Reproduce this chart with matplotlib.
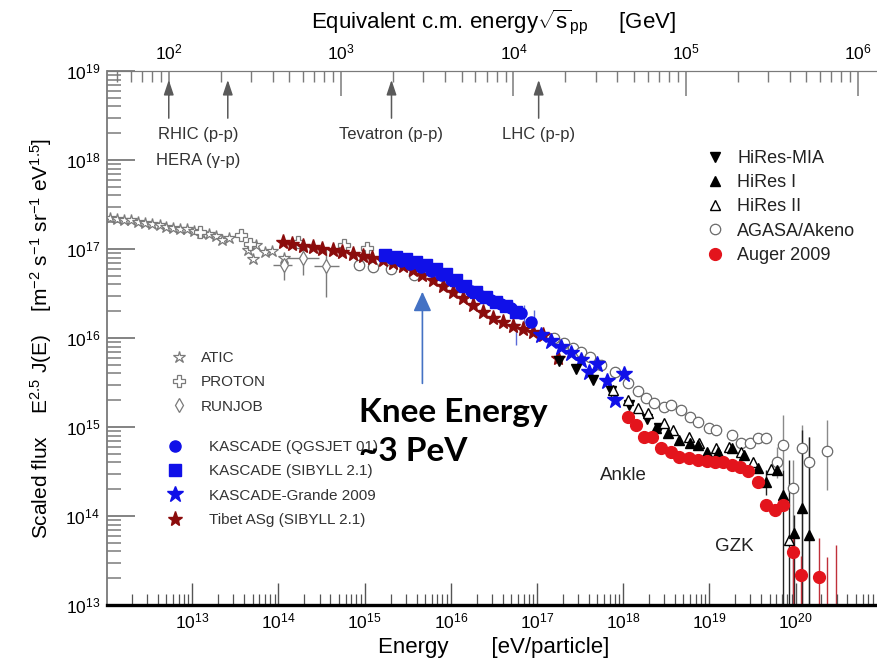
import numpy as np
import matplotlib.pyplot as plt

plt.rcParams['font.family'] = ['Liberation Sans', 'DejaVu Sans']
plt.rcParams['mathtext.fontset'] = 'custom'
plt.rcParams['mathtext.rm'] = 'Liberation Sans'
plt.rcParams['mathtext.it'] = 'Liberation Sans:italic'
plt.rcParams['mathtext.bf'] = 'Liberation Sans:bold'

# all values are log10: energy in eV, scaled flux E^2.5 J(E)
atic_logE = [12.05, 12.13, 12.21, 12.29, 12.37, 12.45, 12.53, 12.62, 12.70, 12.78, 12.86, 12.94,
             13.02, 13.10, 13.19, 13.27, 13.35, 13.43, 13.65, 13.70, 13.74, 13.84, 13.93, 14.06]
atic_logF = [17.35, 17.34, 17.33, 17.33, 17.30, 17.29, 17.28, 17.27, 17.25, 17.24, 17.22, 17.22,
             17.20, 17.18, 17.17, 17.15, 17.10, 17.12, 16.99, 16.89, 17.04, 16.97, 16.98, 16.90]

proton_logE = [13.09, 13.57, 13.67, 14.23, 14.76, 15.03]
proton_logF = [17.19, 17.16, 17.06, 17.08, 17.05, 17.01]

runjob_logE = [14.06, 14.29, 14.55]
runjob_logF = [16.82, 16.90, 16.81]
runjob_E_lo = [13.94, 14.10, 14.41]
runjob_E_hi = [14.16, 14.47, 14.70]
runjob_F_lo = [16.65, 16.71, 16.46]
runjob_F_hi = [16.90, 17.04, 17.01]

tibet_logE = [14.05, 14.16, 14.28, 14.40, 14.51, 14.63, 14.74, 14.86, 14.98, 15.09, 15.21, 15.33,
              15.44, 15.56, 15.67, 15.79, 15.91, 16.02, 16.14, 16.26, 16.37, 16.49, 16.60, 16.72,
              16.84, 16.95, 17.07, 17.24]
tibet_logF = [17.08, 17.06, 17.03, 17.02, 17.00, 16.99, 16.97, 16.94, 16.92, 16.90, 16.88, 16.84,
              16.81, 16.76, 16.71, 16.65, 16.58, 16.52, 16.45, 16.37, 16.29, 16.22, 16.18, 16.13,
              16.10, 16.07, 16.03, 15.78]

kas_sib_logE = [15.24, 15.36, 15.48, 15.59, 15.71, 15.83, 15.94, 16.06, 16.17, 16.29, 16.41, 16.52,
                16.64, 16.76]
kas_sib_logF = [16.93, 16.91, 16.89, 16.85, 16.82, 16.78, 16.72, 16.65, 16.58, 16.52, 16.46, 16.40,
                16.36, 16.29]

kas_qgs_logE = [15.30, 15.42, 15.53, 15.65, 15.77, 15.88, 16.00, 16.12, 16.23, 16.35, 16.47, 16.58,
                16.70, 16.81, 16.93]
kas_qgs_logF = [16.90, 16.87, 16.83, 16.80, 16.75, 16.71, 16.65, 16.58, 16.53, 16.47, 16.43, 16.38,
                16.34, 16.28, 16.18]
kas_err_logE = [16.76, 16.85, 16.97]
kas_err_lo = [15.92, 16.17, 16.12]
kas_err_hi = [16.17, 16.37, 16.31]

grande_logE = [17.05, 17.16, 17.28, 17.40, 17.51, 17.60, 17.70, 17.81, 17.91, 18.01]
grande_logF = [16.03, 15.97, 15.90, 15.83, 15.75, 15.62, 15.71, 15.52, 15.30, 15.60]

mia_logE = [17.26, 17.45, 17.65, 17.86, 18.07, 18.28, 18.42]
mia_logF = [15.74, 15.65, 15.53, 15.40, 15.25, 15.09, 14.99]

hires1_logE = [18.38, 18.52, 18.65, 18.77, 18.87, 18.97, 19.10, 19.26, 19.40, 19.57, 19.66, 19.78,
               19.86, 19.98, 20.07, 20.16]
hires1_logF = [14.99, 14.93, 14.85, 14.82, 14.80, 14.72, 14.72, 14.76, 14.69, 14.54, 14.38, 14.52,
               14.24, 13.81, 14.09, 13.79]
hires1_err_logE = [19.66, 19.86, 19.98, 20.07, 20.16]
hires1_err_lo = [14.24, 12.50, 12.50, 12.50, 12.50]
hires1_err_hi = [14.52, 14.52, 14.01, 14.97, 14.89]

hires2_logE = [17.88, 18.06, 18.17, 18.29, 18.47, 18.58, 18.76, 18.88, 19.08, 19.23, 19.37, 19.51,
               19.72, 19.92]
hires2_logF = [15.42, 15.30, 15.21, 15.16, 15.04, 14.97, 14.89, 14.82, 14.76, 14.78, 14.72, 14.61,
               14.53, 13.73]
hires2_err_logE = [19.92]
hires2_err_lo = [12.50]
hires2_err_hi = [14.63]

agasa_logE = [14.93, 15.10, 15.30, 15.57, 17.20, 17.31, 17.42, 17.51, 17.62, 17.74, 17.90, 18.06,
              18.17, 18.27, 18.36, 18.47, 18.56, 18.67, 18.77, 18.87, 18.99, 19.08, 19.26, 19.37,
              19.47, 19.57, 19.66, 19.78, 19.86, 19.97, 20.07, 20.16, 20.37]
agasa_logF = [16.82, 16.80, 16.78, 16.71, 16.00, 15.94, 15.89, 15.84, 15.79, 15.70, 15.62, 15.49,
              15.40, 15.33, 15.27, 15.22, 15.25, 15.19, 15.11, 15.06, 14.99, 14.97, 14.91, 14.82,
              14.82, 14.88, 14.88, 14.61, 14.80, 14.31, 14.76, 14.61, 14.73]
agasa_err_logE = [19.78, 19.86, 19.97, 20.07, 20.16, 20.37]
agasa_err_lo = [14.43, 14.52, 12.50, 12.50, 12.50, 14.29]
agasa_err_hi = [14.78, 15.13, 14.63, 15.02, 14.89, 15.08]

auger_logE = [18.05, 18.15, 18.24, 18.33, 18.44, 18.56, 18.65, 18.76, 18.87, 18.97, 19.06, 19.16,
              19.26, 19.35, 19.45, 19.56, 19.66, 19.76, 19.86, 19.97, 20.06, 20.27]
auger_logF = [15.11, 15.02, 14.89, 14.89, 14.76, 14.72, 14.66, 14.65, 14.63, 14.62, 14.61, 14.61,
              14.57, 14.55, 14.51, 14.38, 14.12, 14.07, 14.12, 13.60, 13.34, 13.31]
auger_err_logE = [19.97, 20.06, 20.27, 20.37, 20.47]
auger_err_lo = [12.50, 12.50, 12.50, 12.50, 12.50]
auger_err_hi = [13.79, 13.55, 13.75, 13.54, 13.67]

# accelerator equivalents, sqrt(s) in GeV
acc_sqrts = [100, 220, 1960, 14000]

energy_ticks = [1e13, 1e14, 1e15, 1e16, 1e17, 1e18, 1e19, 1e20]
flux_ticks = [1e13, 1e14, 1e15, 1e16, 1e17, 1e18, 1e19]
sqrts_ticks = [1e2, 1e3, 1e4, 1e5, 1e6]

M_P = 0.938  # GeV


def p(v):
    return 10 ** np.asarray(v, dtype=float)


def to_sqrts(e):
    e = np.asarray(e, dtype=float)
    return np.sqrt(np.clip(2 * M_P * e * 1e-9, 1e-30, None))


def to_energy(s):
    s = np.asarray(s, dtype=float)
    return s ** 2 / (2 * M_P) * 1e9


fig = plt.figure(figsize=(8.78, 6.67), dpi=100)
ax = fig.add_axes([107 / 878, 1 - 605 / 667, 773 / 878, 534 / 667])
ax.set_xscale('log')
ax.set_yscale('log')
ax.set_xlim(10 ** 12.01, 10 ** 20.98)
ax.set_ylim(1e13, 1e19)
ax.set_xticks(energy_ticks)
ax.set_yticks(flux_ticks)

gray = '#7a7a7a'
blue = '#1010e8'
dred = '#8b0c0c'
red = '#e3141c'

# error bars
ax.errorbar(p(runjob_logE), p(runjob_logF),
            xerr=[p(runjob_logE) - p(runjob_E_lo), p(runjob_E_hi) - p(runjob_logE)],
            yerr=[p(runjob_logF) - p(runjob_F_lo), p(runjob_F_hi) - p(runjob_logF)],
            fmt='none', ecolor=gray, elinewidth=1.0, zorder=1)
ax.vlines(p(kas_err_logE), p(kas_err_lo), p(kas_err_hi), color='#5a6ad8', lw=1.0, zorder=1)
ax.vlines(p(agasa_err_logE), p(agasa_err_lo), p(agasa_err_hi), color='#8a8a8a', lw=1.0, zorder=1)
ax.vlines(p(hires1_err_logE), p(hires1_err_lo), p(hires1_err_hi), color='#222222', lw=1.0, zorder=1)
ax.vlines(p(hires2_err_logE), p(hires2_err_lo), p(hires2_err_hi), color='#222222', lw=1.0, zorder=1)
ax.vlines(p(auger_err_logE), p(auger_err_lo), p(auger_err_hi), color='#c0303a', lw=1.0, zorder=1)

h_atic, = ax.plot(p(atic_logE), p(atic_logF), ls='none', marker='*', ms=9, mfc='white',
                  mec=gray, mew=0.9, label='ATIC', zorder=2)
h_proton, = ax.plot(p(proton_logE), p(proton_logF), ls='none', marker='P', ms=8, mfc='white',
                    mec=gray, mew=0.9, label='PROTON', zorder=2)
h_runjob, = ax.plot(p(runjob_logE), p(runjob_logF), ls='none', marker='d', ms=7, mfc='white',
                    mec=gray, mew=0.9, label='RUNJOB', zorder=2)
h_agasa, = ax.plot(p(agasa_logE), p(agasa_logF), ls='none', marker='o', ms=7.5, mfc='white',
                   mec='#6a6a6a', mew=0.9, label='AGASA/Akeno', zorder=2)
h_tibet, = ax.plot(p(tibet_logE), p(tibet_logF), ls='none', marker='*', ms=11, mfc=dred,
                   mec=dred, label='Tibet ASg (SIBYLL 2.1)', zorder=3)
h_sib, = ax.plot(p(kas_sib_logE), p(kas_sib_logF), ls='none', marker='s', ms=8, mfc=blue,
                 mec=blue, label='KASCADE (SIBYLL 2.1)', zorder=4)
h_qgs, = ax.plot(p(kas_qgs_logE), p(kas_qgs_logF), ls='none', marker='o', ms=8, mfc=blue,
                 mec=blue, label='KASCADE (QGSJET 01)', zorder=4)
h_grande, = ax.plot(p(grande_logE), p(grande_logF), ls='none', marker='*', ms=12, mfc=blue,
                    mec=blue, label='KASCADE-Grande 2009', zorder=4)
h_mia, = ax.plot(p(mia_logE), p(mia_logF), ls='none', marker='v', ms=7.5, mfc='black',
                 mec='black', label='HiRes-MIA', zorder=5)
h_h2, = ax.plot(p(hires2_logE), p(hires2_logF), ls='none', marker='^', ms=7.5, mfc='white',
                mec='black', mew=1.0, label='HiRes II', zorder=5)
h_h1, = ax.plot(p(hires1_logE), p(hires1_logF), ls='none', marker='^', ms=7.5, mfc='black',
                mec='black', label='HiRes I', zorder=5)
h_auger, = ax.plot(p(auger_logE), p(auger_logF), ls='none', marker='o', ms=8.5, mfc=red,
                   mec=red, label='Auger 2009', zorder=6)

# axes styling
ax.spines['right'].set_visible(False)
ax.spines['left'].set_color(gray)
ax.spines['left'].set_linewidth(1.3)
ax.spines['top'].set_color(gray)
ax.spines['bottom'].set_color('black')
ax.spines['bottom'].set_linewidth(2.4)
ax.tick_params(axis='y', which='major', direction='in', length=20, width=1.3, color=gray,
               labelsize=12.5, pad=5)
ax.tick_params(axis='y', which='minor', direction='in', length=10, width=1.1, color=gray)
ax.tick_params(axis='x', which='major', direction='in', length=16, width=1.0, color='#555555',
               labelsize=12.5, pad=5)
ax.tick_params(axis='x', which='minor', direction='in', length=8, width=0.9, color='#555555')

ax.set_xlabel('Energy       [eV/particle]', fontsize=16, labelpad=4)
ax.set_ylabel(r'Scaled flux    E$^{2.5}$ J(E)    [m$^{-2}$ s$^{-1}$ sr$^{-1}$ eV$^{1.5}$]',
              fontsize=15, labelpad=8)

sec = ax.secondary_xaxis('top', functions=(to_sqrts, to_energy))
sec.set_xticks(sqrts_ticks)
sec.spines['top'].set_color(gray)
sec.tick_params(which='major', direction='in', length=18, width=1.1, color=gray,
                labelsize=12.5, pad=6)
sec.tick_params(which='minor', direction='in', length=8, width=1.0, color=gray)
sec.set_xlabel(r'Equivalent c.m. energy$\sqrt{\mathrm{s}}_{\mathrm{pp}}$     [GeV]',
               fontsize=16, labelpad=10)

# accelerator arrows
for s in acc_sqrts:
    e = float(to_energy(s))
    ax.annotate('', xy=(e, 10 ** 18.90), xytext=(e, 10 ** 18.47),
                arrowprops=dict(arrowstyle='-|>,head_length=0.9,head_width=0.3',
                                color='#5a5a5a', lw=1.1, mutation_scale=10,
                                shrinkA=0, shrinkB=0))
rhic_mid = float(np.sqrt(to_energy(acc_sqrts[0]) * to_energy(acc_sqrts[1])))
ax.text(rhic_mid, 10 ** 18.29, 'RHIC (p-p)', fontsize=12, color='#333333', ha='center', va='center')
ax.text(rhic_mid, 10 ** 18.00, 'HERA (\u03b3-p)', fontsize=12, color='#333333', ha='center', va='center')
ax.text(float(to_energy(acc_sqrts[2])), 10 ** 18.29, 'Tevatron (p-p)', fontsize=12, color='#333333',
        ha='center', va='center')
ax.text(float(to_energy(acc_sqrts[3])), 10 ** 18.29, 'LHC (p-p)', fontsize=12, color='#333333',
        ha='center', va='center')

ax.text(10 ** 18.00, 10 ** 14.46, 'Ankle', fontsize=13.5, color='#222222', ha='center', va='center')
ax.text(10 ** 19.29, 10 ** 13.66, 'GZK', fontsize=13.5, color='#222222', ha='center', va='center')

# knee annotation
ax.annotate('', xy=(10 ** 15.67, 10 ** 16.52), xytext=(10 ** 15.67, 10 ** 15.49),
            arrowprops=dict(arrowstyle='-|>,head_length=1.2,head_width=0.55', color='#4472c4',
                            lw=1.2, mutation_scale=10, shrinkA=0, shrinkB=0), zorder=7)
ax.text(10 ** 14.93, 10 ** 15.16, 'Knee Energy', fontsize=24, fontweight='bold', family='Lato',
        ha='left', va='center', color='black', zorder=8)
ax.text(10 ** 14.93, 10 ** 14.72, '~3 PeV', fontsize=24, fontweight='bold', family='Lato',
        ha='left', va='center', color='black', zorder=8)

# legends
leg_r = ax.legend(handles=[h_mia, h_h1, h_h2, h_agasa, h_auger], loc='upper left',
                  bbox_to_anchor=(706 / 878, 1 - 150 / 667), bbox_transform=fig.transFigure,
                  frameon=False, fontsize=13, numpoints=1, handlelength=1.0, handletextpad=0.72,
                  labelspacing=0.4, borderpad=0, borderaxespad=0)
for t in leg_r.get_texts():
    t.set_color('#222222')
ax.add_artist(leg_r)
leg_a = ax.legend(handles=[h_atic, h_proton, h_runjob], loc='upper left',
                  bbox_to_anchor=(171 / 878, 1 - 351 / 667), bbox_transform=fig.transFigure,
                  frameon=False, fontsize=11, numpoints=1, handlelength=1.0, handletextpad=0.95,
                  labelspacing=0.68, borderpad=0, borderaxespad=0)
for t in leg_a.get_texts():
    t.set_color('#333333')
ax.add_artist(leg_a)
leg_k = ax.legend(handles=[h_qgs, h_sib, h_grande, h_tibet], loc='upper left',
                  bbox_to_anchor=(167 / 878, 1 - 440 / 667), bbox_transform=fig.transFigure,
                  frameon=False, fontsize=11, numpoints=1, handlelength=1.0, handletextpad=1.73,
                  labelspacing=0.68, borderpad=0, borderaxespad=0)
for t in leg_k.get_texts():
    t.set_color('#333333')

fig.savefig('out.png', dpi=100)
